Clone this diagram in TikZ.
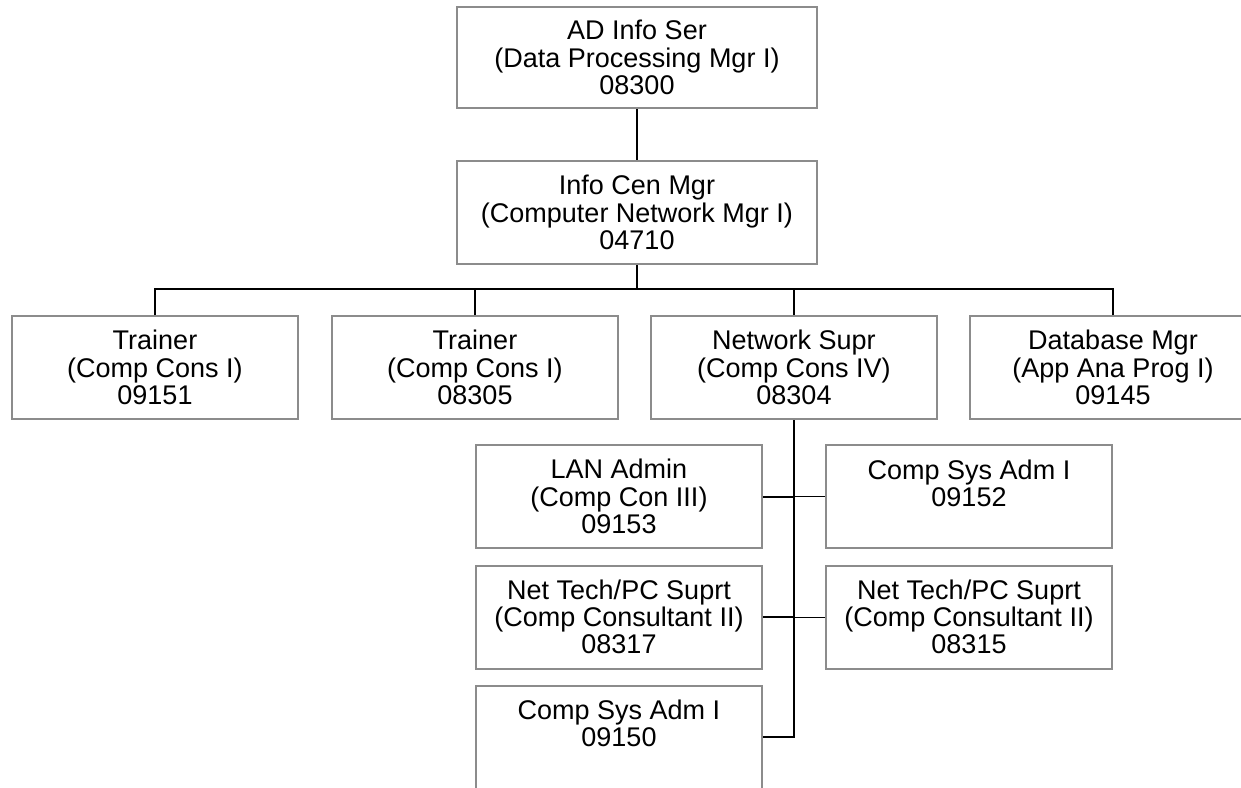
\documentclass[tikz,border=0pt]{standalone}
\usepackage{fontspec}
\setmainfont{Liberation Sans}
\usepackage{tikz}
\usetikzlibrary{positioning}

\definecolor{boxgray}{RGB}{140,140,140}
\newcommand{\orgfont}{\fontsize{13.5pt}{13.6pt}\selectfont}

\begin{document}
\begin{tikzpicture}
	[node distance=77.5pt, line width=1pt]
	\tikzstyle{post}=[draw=boxgray, line width=1pt, fill=white, align=center, inner sep=0pt, minimum width=143pt, minimum height=51.5pt, font=\orgfont]
	\tikzstyle{head}=[post, minimum width=180pt, minimum height=50.5pt]
	\tikzstyle{link}=[black, line width=1pt]
	\tikzstyle{thinlink}=[black, line width=0.5pt]

	\useasboundingbox (-318.5pt,28.75pt) rectangle (302pt,-364.75pt);
	\clip (-318.5pt,28.75pt) rectangle (302pt,-364.75pt);

	% top of the chart
	\node[head] (ad)                                {AD Info Ser\\(Data Processing Mgr I)\\08300};
	\node[head, minimum height=51.5pt] (info) [below of=ad] {Info Cen Mgr\\(Computer Network Mgr I)\\04710};

	% second row
	\node[post] (net)  [below of=info, xshift=78.5pt]           {Network Supr\\(Comp Cons IV)\\08304};
	\node[post] (tr2)  [left of=net, node distance=159.5pt]     {Trainer\\(Comp Cons I)\\08305};
	\node[post] (tr1)  [left of=tr2, node distance=160pt]       {Trainer\\(Comp Cons I)\\09151};
	\node[post] (db)   [right of=net, node distance=159.5pt]    {Database Mgr\\(App Ana Prog I)\\09145};

	% under the network supervisor
	\node[post] (lan)  [below of=net, node distance=64.5pt, xshift=-87.5pt] {LAN Admin\\(Comp Con III)\\09153};
	\node[post] (csa1) [right of=lan, node distance=175pt]      {Comp Sys Adm I\\09152\\~};
	\node[post] (nt1)  [below of=lan, node distance=60.25pt]    {Net Tech/PC Suprt\\(Comp Consultant II)\\08317};
	\node[post] (nt2)  [right of=nt1, node distance=175pt]      {Net Tech/PC Suprt\\(Comp Consultant II)\\08315};
	\node[post] (csa2) [below of=nt1, node distance=60pt]       {Comp Sys Adm I\\09150\\~};

	\draw[link] (ad) -- (info);
	\draw[link] (tr1.north) -- ++(0,13pt) -| (info.south);
	\draw[link] (tr2.north) -- ++(0,13pt) -| (info.south);
	\draw[link] (net.north) -- ++(0,13pt) -| (info.south);
	\draw[link] (db.north)  -- ++(0,13pt) -| (info.south);

	\draw[link] (net.south) |- (csa2.east);
	\draw[link] (lan.east) -- (lan.east -| net.south);
	\draw[link] (nt1.east) -- (nt1.east -| net.south);
	\draw[thinlink] (csa1.west) -- (csa1.west -| net.south);
	\draw[thinlink] (nt2.west) -- (nt2.west -| net.south);
\end{tikzpicture}
\end{document}
